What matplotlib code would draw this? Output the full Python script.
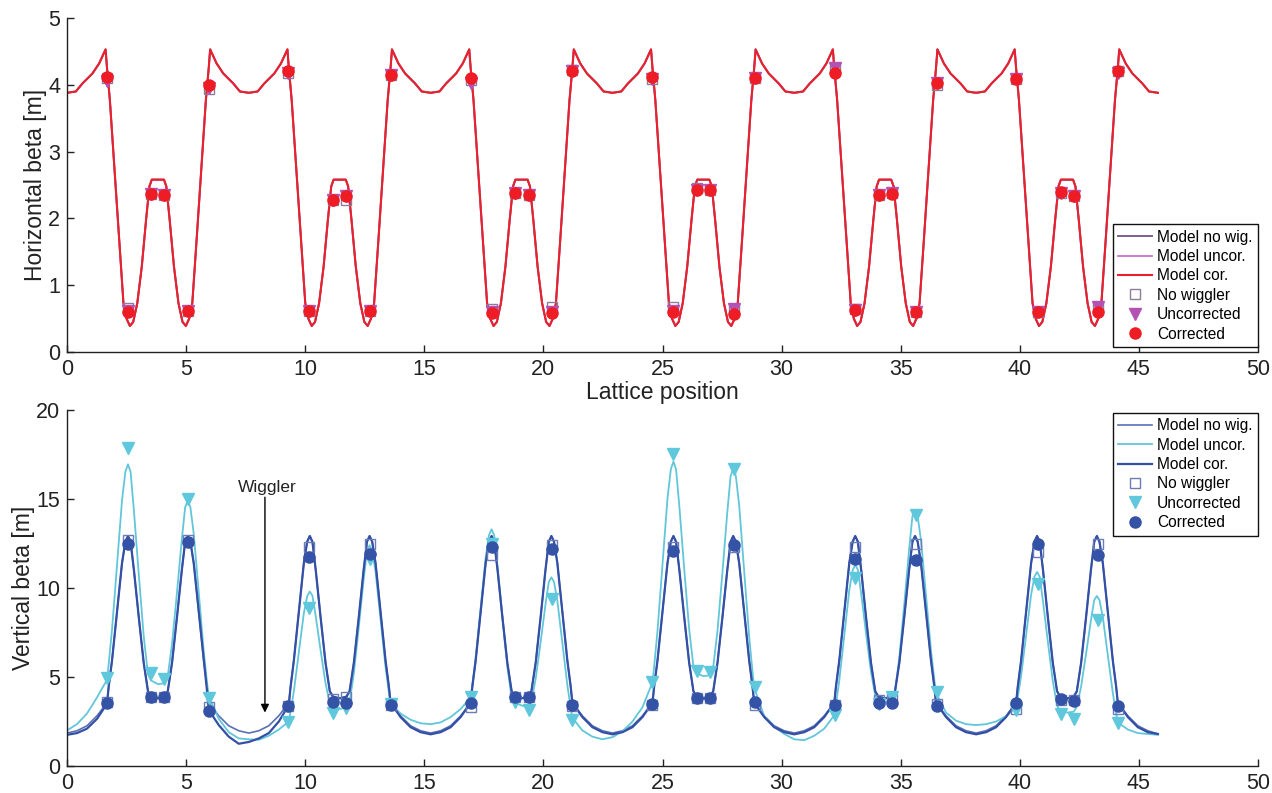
import numpy as np
import matplotlib
matplotlib.use("Agg")
import matplotlib.pyplot as plt

plt.rcParams['font.family'] = ['Liberation Sans', 'DejaVu Sans']

# ---------------- lattice ----------------
N_CELLS = 6
CELL_LEN = 7.633

# horizontal beta model, one (periodic) cell
U_H = [0.00, 0.37, 0.65, 1.07, 1.35, 1.62, 1.68, 1.80, 2.00, 2.20, 2.37, 2.50, 2.64, 2.78,
       2.95, 3.14, 3.32, 3.46, 3.56, 4.07, 4.17, 4.31, 4.49, 4.68, 4.85, 4.99, 5.13, 5.26,
       5.43, 5.63, 5.83, 5.95, 6.01, 6.28, 6.56, 6.98, 7.26]
BX_CELL = [3.88, 3.90, 4.02, 4.17, 4.32, 4.53, 4.25, 3.77, 2.70, 1.62, 0.73, 0.50, 0.39, 0.45,
           0.73, 1.28, 1.98, 2.48, 2.58, 2.58, 2.48, 1.98, 1.28, 0.73, 0.45, 0.39, 0.50, 0.73,
           1.62, 2.70, 3.77, 4.25, 4.53, 4.32, 4.17, 4.02, 3.90]
BX_END = 3.88

# vertical beta model
U_V = [0.00, 0.42, 0.84, 1.26, 1.68, 1.75, 1.89, 2.03, 2.17, 2.31, 2.45, 2.56, 2.67, 2.81,
       3.01, 3.22, 3.40, 3.53, 3.82, 4.10, 4.23, 4.41, 4.62, 4.82, 4.96, 5.07, 5.18, 5.32,
       5.46, 5.60, 5.74, 5.88, 5.95, 6.37, 6.79, 7.21]
BY_NOWIG_CELL = [1.85, 1.98, 2.26, 2.82, 3.55, 4.46, 5.92, 7.75, 9.59, 11.40, 12.60, 12.92,
                 12.60, 11.00, 8.40, 5.80, 4.20, 3.90, 3.80, 3.90, 4.20, 5.80, 8.40, 11.00,
                 12.60, 12.92, 12.60, 11.40, 9.59, 7.75, 5.92, 4.46, 3.55, 2.82, 2.26, 1.98]
BY_COR = [
    [1.75, 1.85, 2.10, 2.65, 3.50, 4.46, 5.92, 7.75, 9.59, 11.40, 12.60, 12.92, 12.60, 11.00,
     8.40, 5.80, 4.20, 3.90, 3.80, 3.90, 4.20, 5.80, 8.40, 11.00, 12.60, 12.92, 12.60, 11.40,
     9.59, 7.75, 5.92, 4.20, 3.15, 2.30, 1.65, 1.25],
    [1.35, 1.55, 1.85, 2.50, 3.43, 4.40, 5.92, 7.75, 9.59, 11.40, 12.60, 12.92, 12.60, 11.00,
     8.40, 5.80, 4.20, 3.90, 3.80, 3.90, 4.20, 5.80, 8.40, 11.00, 12.60, 12.92, 12.60, 11.40,
     9.59, 7.75, 5.92, 4.46, 3.55, 2.75, 2.18, 1.90],
    [1.78, 1.90, 2.18, 2.75, 3.55, 4.46, 5.92, 7.75, 9.59, 11.40, 12.60, 12.92, 12.60, 11.00,
     8.40, 5.80, 4.20, 3.90, 3.80, 3.90, 4.20, 5.80, 8.40, 11.00, 12.60, 12.92, 12.60, 11.40,
     9.59, 7.75, 5.92, 4.46, 3.55, 2.75, 2.18, 1.90],
    [1.78, 1.90, 2.18, 2.75, 3.55, 4.46, 5.92, 7.75, 9.59, 11.40, 12.60, 12.92, 12.60, 11.00,
     8.40, 5.80, 4.20, 3.90, 3.80, 3.90, 4.20, 5.80, 8.40, 11.00, 12.60, 12.92, 12.60, 11.40,
     9.59, 7.75, 5.92, 4.46, 3.55, 2.75, 2.18, 1.90],
    [1.78, 1.90, 2.18, 2.75, 3.55, 4.46, 5.92, 7.75, 9.59, 11.40, 12.60, 12.92, 12.60, 11.00,
     8.40, 5.80, 4.20, 3.90, 3.80, 3.90, 4.20, 5.80, 8.40, 11.00, 12.60, 12.92, 12.60, 11.40,
     9.59, 7.75, 5.92, 4.46, 3.55, 2.75, 2.18, 1.90],
    [1.78, 1.90, 2.18, 2.75, 3.55, 4.46, 5.92, 7.75, 9.59, 11.40, 12.60, 12.92, 12.60, 11.00,
     8.40, 5.80, 4.20, 3.90, 3.80, 3.90, 4.20, 5.80, 8.40, 11.00, 12.60, 12.92, 12.60, 11.40,
     9.59, 7.75, 5.92, 4.46, 3.55, 2.75, 2.18, 1.90],
]
BY_UNCOR = [
    [2.00, 2.35, 2.95, 3.85, 4.85, 5.72, 7.66, 10.09, 12.53, 14.93, 16.53, 16.95, 16.52, 14.34,
     10.82, 7.30, 5.14, 4.80, 4.60, 4.65, 5.05, 6.86, 9.79, 12.73, 14.54, 14.90, 14.54, 13.06,
     10.89, 8.66, 6.45, 4.69, 3.90, 2.65, 1.90, 1.55],
    [1.50, 1.47, 1.70, 2.05, 2.50, 3.03, 4.19, 5.66, 7.14, 8.58, 9.54, 9.80, 9.57, 8.41,
     6.53, 4.65, 3.49, 3.30, 3.20, 3.30, 3.60, 5.21, 7.84, 10.46, 12.08, 12.40, 12.08, 10.91,
     9.15, 7.35, 5.56, 4.14, 3.50, 2.95, 2.60, 2.40],
    [2.35, 2.45, 2.75, 3.20, 3.85, 4.53, 6.04, 7.94, 9.85, 11.72, 12.97, 13.30, 12.95, 11.21,
     8.39, 5.57, 3.84, 3.55, 3.40, 3.30, 3.62, 4.90, 6.98, 9.06, 10.34, 10.60, 10.34, 9.28,
     7.72, 6.12, 4.53, 3.27, 2.70, 2.00, 1.65, 1.50],
    [1.62, 1.95, 2.50, 3.30, 4.70, 5.59, 7.58, 10.07, 12.57, 15.03, 16.67, 17.10, 16.68, 14.56,
     11.12, 7.69, 5.58, 5.20, 5.05, 5.10, 5.56, 7.60, 10.92, 14.24, 16.29, 16.70, 16.29, 14.65,
     12.21, 9.73, 7.25, 5.29, 4.40, 2.80, 2.20, 1.80],
    [1.50, 1.45, 1.70, 2.10, 2.85, 3.46, 4.81, 6.51, 8.22, 9.89, 11.00, 11.30, 11.03, 9.68,
     7.48, 5.29, 3.94, 3.65, 3.60, 3.75, 4.22, 6.08, 9.12, 12.15, 14.03, 14.40, 14.03, 12.68,
     10.64, 8.56, 6.49, 4.84, 4.10, 3.00, 2.55, 2.35],
    [2.30, 2.35, 2.50, 2.80, 3.30, 3.85, 5.06, 6.59, 8.13, 9.63, 10.63, 10.90, 10.63, 9.24,
     7.01, 4.77, 3.40, 3.10, 3.00, 3.05, 3.34, 4.47, 6.33, 8.18, 9.32, 9.55, 9.32, 8.36,
     6.96, 5.52, 4.10, 2.96, 2.45, 2.05, 1.85, 1.80],
]
BY_END = {"nowig": 1.80, "uncor": 1.75, "cor": 1.80}

# ---------------- BPM measurements ----------------
BPM_X = [1.68, 2.56, 3.53, 4.07, 5.08, 5.96, 9.28, 10.16, 11.17, 11.71, 12.72, 13.60,
         16.96, 17.84, 18.81, 19.40, 20.36, 21.20, 24.56, 25.44, 26.45, 26.99, 28.00, 28.88,
         32.24, 33.08, 34.09, 34.63, 35.64, 36.52, 39.84, 40.76, 41.73, 42.27, 43.28, 44.12]

H_NOWIG = [4.10, 0.66, 2.37, 2.35, 0.62, 3.93, 4.18, 0.62, 2.28, 2.27, 0.61, 4.14,
           4.07, 0.64, 2.38, 2.35, 0.67, 4.22, 4.08, 0.67, 2.45, 2.43, 0.63, 4.10,
           4.25, 0.64, 2.35, 2.38, 0.60, 4.00, 4.08, 0.60, 2.38, 2.33, 0.67, 4.20]
H_UNCOR = [4.05, 0.62, 2.37, 2.35, 0.62, 3.95, 4.18, 0.62, 2.28, 2.33, 0.61, 4.14,
           4.03, 0.60, 2.38, 2.35, 0.60, 4.20, 4.08, 0.62, 2.43, 2.43, 0.64, 4.10,
           4.25, 0.63, 2.35, 2.38, 0.60, 4.02, 4.08, 0.60, 2.38, 2.33, 0.67, 4.18]
H_COR = [4.12, 0.60, 2.37, 2.35, 0.62, 4.00, 4.20, 0.62, 2.28, 2.34, 0.61, 4.14,
         4.10, 0.58, 2.38, 2.35, 0.58, 4.20, 4.11, 0.60, 2.43, 2.43, 0.57, 4.10,
         4.17, 0.63, 2.35, 2.37, 0.60, 4.03, 4.08, 0.60, 2.40, 2.33, 0.60, 4.20]

V_NOWIG = [3.60, 12.70, 3.90, 3.90, 12.70, 3.30, 3.35, 12.30, 3.75, 3.85, 12.50, 3.45,
           3.30, 11.85, 3.85, 3.85, 12.40, 3.35, 3.45, 12.30, 3.80, 3.80, 12.30, 3.40,
           3.40, 12.30, 3.70, 3.75, 12.50, 3.50, 3.20, 12.05, 3.70, 3.70, 12.50, 3.20]
V_UNCOR = [4.95, 17.85, 5.20, 4.90, 15.00, 3.80, 2.50, 8.85, 2.95, 3.25, 11.65, 3.50,
           3.85, 12.50, 3.60, 3.15, 9.40, 2.60, 4.70, 17.55, 5.35, 5.30, 16.70, 4.45,
           2.85, 10.55, 3.50, 3.90, 14.10, 4.15, 3.15, 10.25, 2.90, 2.65, 8.20, 2.40]
V_COR = [3.55, 12.50, 3.90, 3.90, 12.60, 3.10, 3.35, 11.75, 3.60, 3.55, 11.90, 3.45,
         3.55, 12.30, 3.85, 3.85, 12.20, 3.45, 3.50, 12.10, 3.80, 3.80, 12.40, 3.60,
         3.40, 11.65, 3.55, 3.55, 11.55, 3.35, 3.55, 12.50, 3.75, 3.65, 11.85, 3.35]

LEGEND_LABELS = ["Model no wig.", "Model uncor.", "Model cor.",
                 "No wiggler", "Uncorrected", "Corrected"]


def lattice_x(u):
    parts = [k * CELL_LEN + np.asarray(u, dtype=float) for k in range(N_CELLS)]
    parts.append(np.array([N_CELLS * CELL_LEN]))
    return np.concatenate(parts)


def join_cells(rows, end):
    return np.concatenate([np.asarray(r, dtype=float) for r in rows] + [np.array([end])])


xh = lattice_x(U_H)
bx_model = join_cells([BX_CELL] * N_CELLS, BX_END)

xv = lattice_x(U_V)
by_nowig = join_cells([BY_NOWIG_CELL] * N_CELLS, BY_END["nowig"])
by_uncor = join_cells(BY_UNCOR, BY_END["uncor"])
by_cor = join_cells(BY_COR, BY_END["cor"])

W, H = 1272, 793
fig = plt.figure(figsize=(W / 100, H / 100), dpi=100)
ax1 = fig.add_axes([67 / W, 1 - 352 / H, 1191 / W, 334 / H])
ax2 = fig.add_axes([67 / W, 1 - 766 / H, 1191 / W, 356 / H])


def style(ax):
    for s in ("top", "right"):
        ax.spines[s].set_visible(False)
    for s in ("left", "bottom"):
        ax.spines[s].set_linewidth(1.0)
        ax.spines[s].set_color("#222222")
    ax.tick_params(direction="in", length=5, width=1.0, labelsize=15.5,
                   colors="#222222", pad=5, top=False, right=False)
    ax.set_xlim(0, 50)
    ax.set_xticks(np.arange(0, 51, 5))


# ---------------- top: horizontal ----------------
ax1.plot(xh, bx_model, color="#7d5f8f", lw=1.4, label=LEGEND_LABELS[0])
ax1.plot(xh, bx_model, color="#c465c4", lw=1.2, label=LEGEND_LABELS[1])
ax1.plot(xh, bx_model, color="#e8212b", lw=1.5, label=LEGEND_LABELS[2])
ax1.plot(BPM_X, H_NOWIG, ls="none", marker="s", ms=7, mfc="none", mec="#8c7d9c",
         mew=1.0, label=LEGEND_LABELS[3])
ax1.plot(BPM_X, H_UNCOR, ls="none", marker="v", ms=9, color="#b452b4",
         mec="#b452b4", label=LEGEND_LABELS[4])
ax1.plot(BPM_X, H_COR, ls="none", marker="o", ms=8, color="#ee1c25",
         mec="#ee1c25", label=LEGEND_LABELS[5])
style(ax1)
ax1.set_ylim(0, 5)
ax1.set_yticks(np.arange(0, 6, 1))
ax1.set_ylabel("Horizontal beta [m]", fontsize=16.5, color="#222222", labelpad=1)
ax1.set_xlabel("Lattice position", fontsize=16.5, color="#222222", labelpad=1)
leg1 = ax1.legend(loc="lower right", bbox_to_anchor=(1.0, 0.015), borderaxespad=0,
                  fontsize=11.2, frameon=True, fancybox=False, framealpha=1,
                  edgecolor="#111111", handlelength=2.2, handletextpad=0.3,
                  labelspacing=0.28, borderpad=0.35)
leg1.get_frame().set_linewidth(1.0)

# ---------------- bottom: vertical ----------------
ax2.plot(xv, by_nowig, color="#5a70b4", lw=1.2, label=LEGEND_LABELS[0])
ax2.plot(xv, by_uncor, color="#62c6da", lw=1.3, label=LEGEND_LABELS[1])
ax2.plot(xv, by_cor, color="#3450a6", lw=1.6, label=LEGEND_LABELS[2])
ax2.plot(BPM_X, V_NOWIG, ls="none", marker="s", ms=7, mfc="none", mec="#6c7cb6",
         mew=1.0, label=LEGEND_LABELS[3])
ax2.plot(BPM_X, V_UNCOR, ls="none", marker="v", ms=9, color="#5fc8dc",
         mec="#5fc8dc", label=LEGEND_LABELS[4])
ax2.plot(BPM_X, V_COR, ls="none", marker="o", ms=8, color="#3553a6",
         mec="#3553a6", label=LEGEND_LABELS[5])
style(ax2)
ax2.set_ylim(0, 20)
ax2.set_yticks(np.arange(0, 21, 5))
ax2.set_ylabel("Vertical beta [m]", fontsize=16.5, color="#222222", labelpad=1)
leg2 = ax2.legend(loc="upper right", bbox_to_anchor=(1.0, 0.992), borderaxespad=0,
                  fontsize=11.2, frameon=True, fancybox=False, framealpha=1,
                  edgecolor="#111111", handlelength=2.2, handletextpad=0.3,
                  labelspacing=0.28, borderpad=0.35)
leg2.get_frame().set_linewidth(1.0)

ax2.annotate("", xy=(8.31, 3.0), xytext=(8.31, 15.1),
             arrowprops=dict(arrowstyle="-|>", color="black", lw=1.0,
                             mutation_scale=12, shrinkA=0, shrinkB=0))
ax2.text(8.4, 15.65, "Wiggler", ha="center", va="center", fontsize=12.5, color="#222222")

fig.savefig("out.png", dpi=100)
